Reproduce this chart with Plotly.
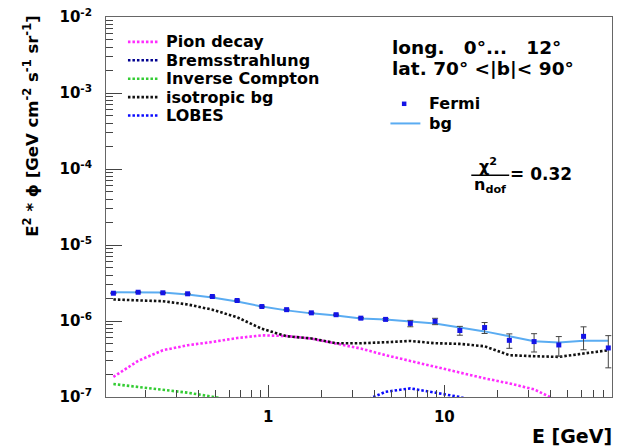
import plotly.graph_objects as go

# Energy bin centres [GeV]
energy = [0.1321, 0.1826, 0.2523, 0.3487, 0.4819, 0.6661, 0.9204, 1.272, 1.758, 2.429,
          3.357, 4.640, 6.412, 8.861, 12.25, 16.93, 23.39, 32.33, 44.67, 61.73, 85.31]

# Fermi measurement, E^2 * flux [GeV cm^-2 s^-1 sr^-1]
fermi = [2.32e-6, 2.39e-6, 2.35e-6, 2.28e-6, 2.10e-6, 1.86e-6, 1.55e-6, 1.41e-6, 1.28e-6, 1.21e-6,
         1.09e-6, 1.05e-6, 0.93e-6, 0.99e-6, 0.75e-6, 0.82e-6, 0.557e-6, 0.536e-6, 0.484e-6, 0.628e-6, 0.442e-6]
fermi_err = [0.03e-6, 0.03e-6, 0.03e-6, 0.03e-6, 0.03e-6, 0.03e-6, 0.02e-6, 0.02e-6, 0.02e-6, 0.02e-6,
             0.025e-6, 0.03e-6, 0.09e-6, 0.095e-6, 0.10e-6, 0.135e-6, 0.12e-6, 0.145e-6, 0.14e-6, 0.21e-6, 0.20e-6]

# Total background model
bg = [2.39e-6, 2.39e-6, 2.37e-6, 2.23e-6, 2.04e-6, 1.81e-6, 1.55e-6, 1.38e-6, 1.26e-6, 1.18e-6,
      1.08e-6, 1.05e-6, 0.99e-6, 0.93e-6, 0.82e-6, 0.73e-6, 0.63e-6, 0.54e-6, 0.52e-6, 0.55e-6, 0.55e-6]

# Background components
pion_decay = [1.84e-7, 2.99e-7, 4.12e-7, 4.80e-7, 5.30e-7, 5.97e-7, 6.48e-7, 6.34e-7, 5.86e-7, 5.04e-7,
              4.34e-7, 3.55e-7, 2.99e-7, 2.49e-7, 2.08e-7, 1.76e-7, 1.51e-7, 1.26e-7, 0.88e-7, 0.70e-7, 0.55e-7]
bremsstrahlung = [5.0e-8, 5.2e-8, 5.3e-8, 5.3e-8, 5.2e-8, 5.0e-8, 4.7e-8, 4.3e-8, 3.9e-8, 3.4e-8,
                  3.0e-8, 2.6e-8, 2.2e-8, 1.8e-8, 1.5e-8, 1.2e-8, 1.0e-8, 0.8e-8, 0.6e-8, 0.5e-8, 0.4e-8]
inverse_compton = [1.48e-7, 1.36e-7, 1.26e-7, 1.14e-7, 1.01e-7, 0.88e-7, 0.76e-7, 0.65e-7, 0.55e-7, 0.46e-7,
                   0.38e-7, 0.31e-7, 0.25e-7, 0.20e-7, 0.16e-7, 0.13e-7, 0.10e-7, 0.08e-7, 0.06e-7, 0.05e-7, 0.04e-7]
isotropic_bg = [1.92e-6, 1.86e-6, 1.82e-6, 1.65e-6, 1.41e-6, 1.12e-6, 0.79e-6, 0.63e-6, 0.59e-6, 0.51e-6,
                0.51e-6, 0.525e-6, 0.546e-6, 0.51e-6, 0.50e-6, 0.465e-6, 0.355e-6, 0.344e-6, 0.337e-6, 0.373e-6, 0.412e-6]
lobes = [1e-9, 1e-9, 1e-9, 1e-9, 1e-9, 1e-9, 2e-9, 4e-9, 8e-9, 1.5e-8,
         0.85e-7, 1.17e-7, 1.30e-7, 1.14e-7, 1.00e-7, 0.80e-7, 0.50e-7, 0.30e-7, 0.15e-7, 0.08e-7, 0.04e-7]

# Tick labels
y_tick_vals = [1e-7, 1e-6, 1e-5, 1e-4, 1e-3, 1e-2]
y_tick_text = ["10<sup>-7</sup>", "10<sup>-6</sup>", "10<sup>-5</sup>", "10<sup>-4</sup>", "10<sup>-3</sup>", "10<sup>-2</sup>"]
x_tick_vals = [1, 10]
x_tick_text = ["1", "10"]

components = [
    ("Pion decay", pion_decay, "#ff2bff"),
    ("Bremsstrahlung", bremsstrahlung, "#00008f"),
    ("Inverse Compton", inverse_compton, "#33cc33"),
    ("isotropic bg", isotropic_bg, "#111111"),
    ("LOBES", lobes, "#0a0aff"),
]

FONT = "DejaVu Sans"
DOT = "2.5px,2px"
W, H = 619, 448
L, R, T, B = 106, 613, 15, 397  # frame in pixels


def px(x):
    return (x - L) / (R - L)


def py(y):
    return (B - y) / (B - T)


fig = go.Figure()

for name, vals, col in components:
    fig.add_trace(go.Scatter(x=energy, y=vals, mode="lines", name=name,
                             line=dict(color=col, width=2.6, dash=DOT), showlegend=False))

fig.add_trace(go.Scatter(x=energy, y=bg, mode="lines", name="bg",
                         line=dict(color="#5aacf2", width=2), showlegend=False))
fig.add_trace(go.Scatter(x=energy, y=fermi, mode="markers", name="Fermi",
                         marker=dict(symbol="square", size=5, color="#1414e6"),
                         error_y=dict(type="data", array=fermi_err, color="#444444",
                                      thickness=1, width=3),
                         showlegend=False))

minor_x = [m * 10 ** k for k in (-1, 0, 1) for m in range(2, 10)]
minor_y = [m * 10.0 ** k for k in range(-7, -2) for m in range(2, 10)]

shapes = []
annotations = []

# Component key, top left
rows = [40, 58.5, 77, 95.5, 114]
for (name, vals, col), ry in zip(components, rows):
    shapes.append(dict(type="line", xref="paper", yref="paper",
                       x0=px(128), x1=px(158), y0=py(ry), y1=py(ry),
                       line=dict(color=col, width=2.6, dash=DOT)))
    annotations.append(dict(text=name, xref="paper", yref="paper", x=px(164), y=py(ry),
                            xanchor="left", yanchor="middle", showarrow=False,
                            font=dict(family=FONT, size=16, color="black", weight="bold")))

# Data / model key
shapes.append(dict(type="rect", xref="paper", yref="paper",
                   x0=px(402.5), x1=px(407), y0=py(100), y1=py(104.5),
                   fillcolor="#1414e6", line=dict(width=0)))
shapes.append(dict(type="line", xref="paper", yref="paper",
                   x0=px(391), x1=px(421), y0=py(122), y1=py(122),
                   line=dict(color="#5aacf2", width=2)))
for txt, ry in (("Fermi", 102), ("bg", 122)):
    annotations.append(dict(text=txt, xref="paper", yref="paper", x=px(428), y=py(ry),
                            xanchor="left", yanchor="middle", showarrow=False,
                            font=dict(family=FONT, size=16, color="black", weight="bold")))

# Region description
for txt, ry in (("long.   0°...   12°", 46), ("lat. 70° <|b|< 90°", 67)):
    annotations.append(dict(text=txt, xref="paper", yref="paper", x=px(391), y=py(ry),
                            xanchor="left", yanchor="middle", showarrow=False,
                            font=dict(family=FONT, size=18.5, color="black", weight="bold")))

# Goodness of fit
annotations.append(dict(text="χ<sup>2</sup>", xref="paper", yref="paper", x=px(489), y=py(164),
                        xanchor="center", yanchor="middle", showarrow=False,
                        font=dict(family=FONT, size=16, color="black", weight="bold")))
shapes.append(dict(type="line", xref="paper", yref="paper",
                   x0=px(472), x1=px(510), y0=py(174), y1=py(174),
                   line=dict(color="black", width=1.5)))
annotations.append(dict(text="n<sub>dof</sub>", xref="paper", yref="paper", x=px(491), y=py(184),
                        xanchor="center", yanchor="middle", showarrow=False,
                        font=dict(family=FONT, size=16, color="black", weight="bold")))
annotations.append(dict(text="= 0.32", xref="paper", yref="paper", x=px(509), y=py(173),
                        xanchor="left", yanchor="middle", showarrow=False,
                        font=dict(family=FONT, size=17, color="black", weight="bold")))

# Axis titles
annotations.append(dict(text="E<sup>2</sup> * ϕ [GeV cm<sup>-2</sup> s<sup>-1</sup> sr<sup>-1</sup>]",
                        xref="paper", yref="paper", x=px(30), y=py(12), textangle=-90,
                        xanchor="center", yanchor="top", showarrow=False,
                        font=dict(family=FONT, size=16.5, color="black", weight="bold")))
annotations.append(dict(text="E [GeV]", xref="paper", yref="paper", x=px(615), y=py(436),
                        xanchor="right", yanchor="middle", showarrow=False,
                        font=dict(family=FONT, size=19, color="black", weight="bold")))

fig.update_layout(
    width=W, height=H,
    margin=dict(l=L, r=W - R, t=T, b=H - B, pad=0),
    paper_bgcolor="white", plot_bgcolor="white",
    showlegend=False,
    shapes=shapes, annotations=annotations,
    xaxis=dict(type="log", range=[-0.921, 1.952],
               tickvals=x_tick_vals, ticktext=x_tick_text,
               ticks="inside", ticklen=12, tickwidth=1, tickcolor="#444444",
               minor=dict(tickvals=minor_x, ticks="inside", ticklen=7, tickcolor="#444444", showgrid=False),
               showgrid=False, zeroline=False,
               showline=True, linecolor="#666666", linewidth=1, mirror=True,
               ticklabelstandoff=6,
               tickfont=dict(family=FONT, size=15, color="black", weight="bold")),
    yaxis=dict(type="log", range=[-7, -2],
               tickvals=y_tick_vals, ticktext=y_tick_text,
               ticks="inside", ticklen=16, tickwidth=1, tickcolor="#444444",
               minor=dict(tickvals=minor_y, ticks="inside", ticklen=7, tickcolor="#444444", showgrid=False),
               showgrid=False, zeroline=False,
               showline=True, linecolor="#666666", linewidth=1, mirror=True,
               ticklabelstandoff=10,
               tickfont=dict(family=FONT, size=15, color="black", weight="bold")),
)

fig.write_html("out.html")
